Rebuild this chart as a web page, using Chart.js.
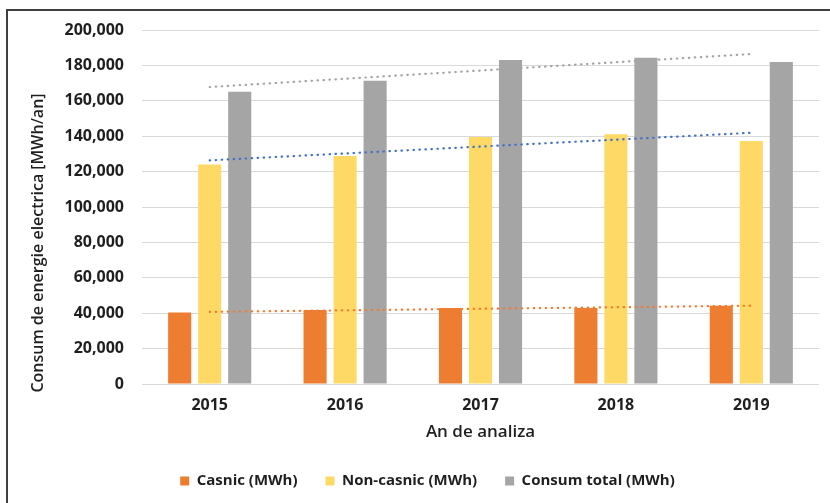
<!DOCTYPE html>
<html>
<head>
<meta charset="utf-8">
<script src="https://cdn.jsdelivr.net/npm/chart.js@4.4.0/dist/chart.umd.min.js"></script>
<style>
html,body{margin:0;padding:0;background:#fff;overflow:hidden;}
#wrap{position:absolute;left:0;top:0;width:830px;height:503px;}
#frame{position:absolute;left:6px;top:9px;width:840px;height:520px;border-left:2px solid #404040;border-top:2px solid #404040;pointer-events:none;}
</style>
</head>
<body>
<div id="wrap"><canvas id="c" width="830" height="503"></canvas></div>
<div id="frame"></div>
<script>
const years = ['2015', '2016', '2017', '2018', '2019'];
const casnic = [40500, 41900, 43000, 43000, 44300];
const nonCasnic = [124000, 128800, 139600, 141100, 137300];
const consumTotal = [165100, 171300, 183000, 184300, 181900];
const seriesNames = ['Casnic (MWh)', 'Non-casnic (MWh)', 'Consum total (MWh)'];
const yTitle = 'Consum de energie electrica [MWh/an]';
const xTitle = 'An de analiza';

// Linear (least-squares) trendline, as Excel draws it
function trend(vals) {
  const n = vals.length;
  const mx = (n - 1) / 2;
  const my = vals.reduce((a, b) => a + b, 0) / n;
  let num = 0, den = 0;
  vals.forEach((v, i) => { num += (i - mx) * (v - my); den += (i - mx) * (i - mx); });
  const k = num / den;
  return vals.map((v, i) => my + k * (i - mx));
}

const FONT = "'Open Sans', sans-serif";
const TXT = '#1f1f1f';

const yTitlePlugin = {
  id: 'yTitle',
  afterDraw(chart) {
    const ctx = chart.ctx;
    ctx.save();
    ctx.translate(38, 243);
    ctx.rotate(-Math.PI / 2);
    ctx.font = "600 16px " + FONT;
    ctx.fillStyle = TXT;
    ctx.textAlign = 'center';
    ctx.textBaseline = 'middle';
    ctx.fillText(yTitle, 0, 0);
    ctx.restore();
  }
};

const barCommon = { type: 'bar', order: 1, barPercentage: 0.77, categoryPercentage: 0.665 };
const lineCommon = { type: 'line', order: 0, borderWidth: 2.2, borderDash: [0.5, 5.5], borderCapStyle: 'round', pointRadius: 0, fill: false, tension: 0 };

new Chart(document.getElementById('c'), {
  data: {
    labels: years,
    datasets: [
      Object.assign({ label: seriesNames[0], data: casnic, backgroundColor: '#ED7D31' }, barCommon),
      Object.assign({ label: seriesNames[1], data: nonCasnic, backgroundColor: '#FFD966' }, barCommon),
      Object.assign({ label: seriesNames[2], data: consumTotal, backgroundColor: '#A5A5A5' }, barCommon),
      Object.assign({ label: 'trend1', data: trend(casnic), borderColor: '#ED7D31' }, lineCommon),
      Object.assign({ label: 'trend2', data: trend(nonCasnic), borderColor: '#4472C4' }, lineCommon),
      Object.assign({ label: 'trend3', data: trend(consumTotal), borderColor: '#A5A5A5' }, lineCommon)
    ]
  },
  options: {
    responsive: false,
    animation: false,
    layout: { padding: { left: 36, right: 11, top: 30, bottom: 4.5 } },
    plugins: {
      tooltip: { enabled: false },
      legend: {
        position: 'bottom',
        labels: {
          filter: (item) => !item.text.startsWith('trend'),
          boxWidth: 9,
          boxHeight: 9,
          padding: 28,
          color: TXT,
          font: { family: FONT, size: 15, weight: 'bold' }
        }
      }
    },
    scales: {
      x: {
        grid: { display: false, drawTicks: false },
        border: { display: false },
        ticks: { color: TXT, padding: 12, font: { family: FONT, size: 16, weight: 'bold' } },
        title: { display: true, text: xTitle, color: TXT, padding: { top: -5.2, bottom: 3 }, font: { family: FONT, size: 17, weight: '600' } }
      },
      y: {
        min: 0,
        max: 200000,
        afterFit(scale) { scale.width = 106; },
        grid: { color: '#d9d9d9', lineWidth: 1, drawTicks: false },
        border: { display: false },
        ticks: {
          stepSize: 20000,
          padding: 18,
          color: TXT,
          font: { family: FONT, size: 16, weight: 'bold' },
          callback: (v) => v.toLocaleString('en-US')
        }
      }
    }
  },
  plugins: [yTitlePlugin]
});
</script>
</body>
</html>
